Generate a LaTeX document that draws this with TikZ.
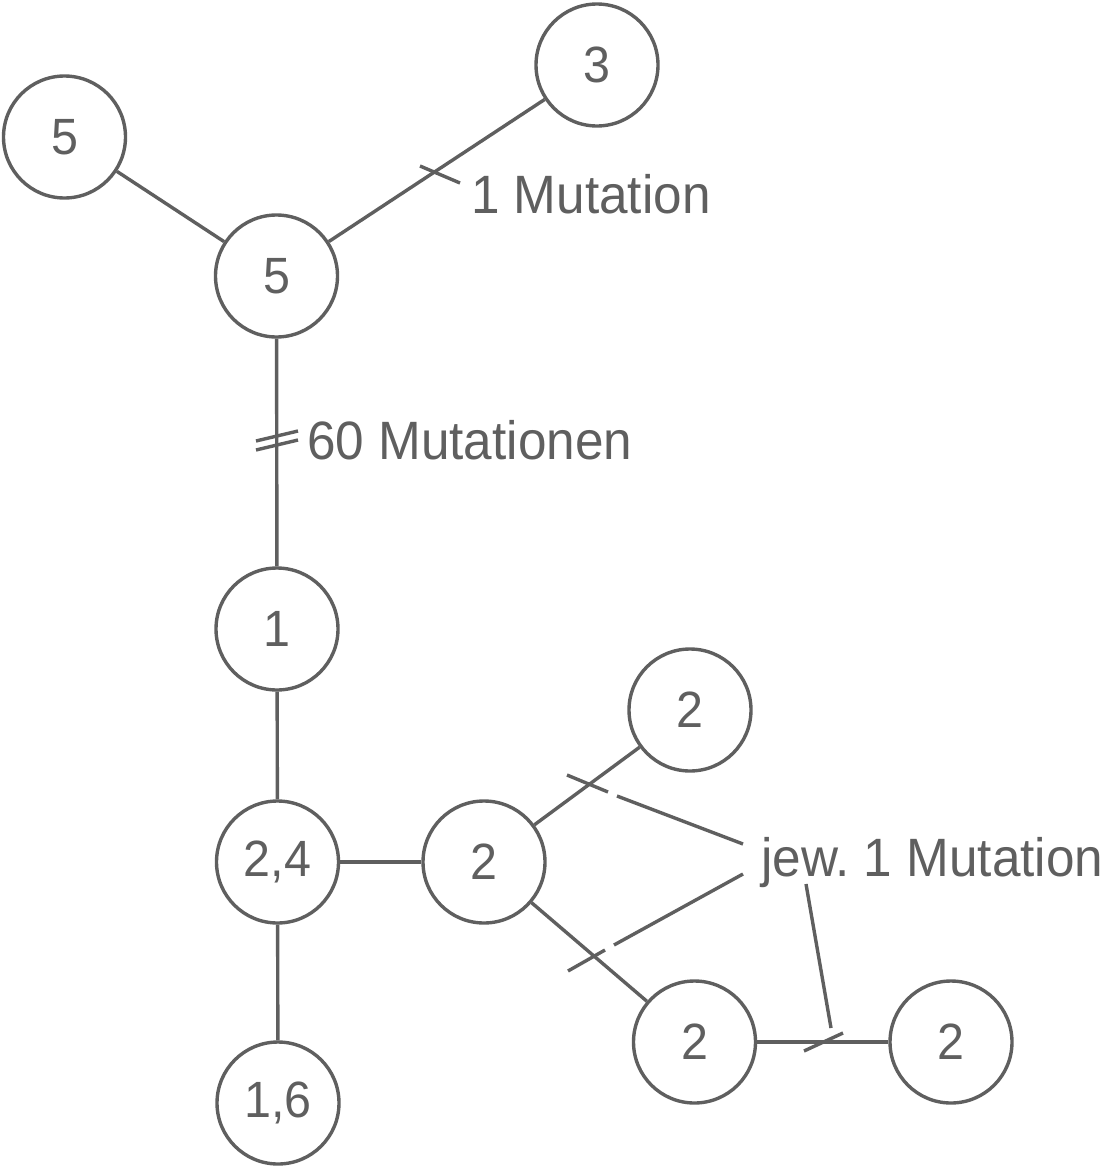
\documentclass[tikz,border=0pt]{standalone}
\usepackage{fontspec}
\setmainfont{Liberation Sans}[FakeStretch=0.95]
\definecolor{ink}{HTML}{5F5F5F}
\begin{document}
\begin{tikzpicture}[x=1pt,y=-1pt,
  every node/.style={text=ink},
  hap/.style={circle,draw=ink,line width=3.4pt,minimum size=122pt,inner sep=0pt,font=\fontsize{51}{51}\selectfont},
  lbl/.style={anchor=base west,inner sep=0pt,font=\fontsize{54}{54}\selectfont},
  edge/.style={draw=ink,line width=3.4pt},
  tick/.style={draw=ink,line width=3.4pt}]
\useasboundingbox (0,0) rectangle (1104,1167);
% nodes
\node[hap] (A) at (597,65) {3};
\node[hap] (B) at (64.5,137) {5};
\node[hap] (C) at (276.5,276) {5};
\node[hap] (D) at (277,629) {1};
\node[hap] (E) at (277.5,862) {2,4};
\node[hap] (F) at (484,862) {2};
\node[hap] (G) at (690,710) {2};
\node[hap] (H) at (694.5,1042) {2};
\node[hap] (I) at (951,1042) {2};
\node[hap] (J) at (278,1103) {1,6};
% edges
\draw[edge] (B) -- (C);
\draw[edge] (C) -- (A);
\draw[edge] (C) -- (D);
\draw[edge] (D) -- (E);
\draw[edge] (E) -- (J);
\draw[edge] (E) -- (F);
\draw[edge] (F) -- (G);
\draw[edge] (F) -- (H);
\draw[edge] (H) -- (I);
% labels
\node[lbl] (L1) at (471,213) {1 Mutation};
\node[lbl] (L2) at (307,459) {60 Mutationen};
\node[lbl] (L3) at (761,876) {jew.\ 1 Mutation};
% ticks
\coordinate (t1a) at (420,166); \coordinate (t1b) at (460,183);
\draw[tick] (t1a) -- (t1b);
\coordinate (t2a) at (256,441); \coordinate (t2b) at (298,431);
\coordinate (t3a) at (256,450); \coordinate (t3b) at (298,440);
\draw[tick] (t2a) -- (t2b);
\draw[tick] (t3a) -- (t3b);
% pointer lines for "jew. 1 Mutation"
\coordinate (p1s) at (743,844); \coordinate (p1e) at (617,796);
\coordinate (k1a) at (608,792); \coordinate (k1b) at (567,775);
\draw[tick] (p1s) -- (p1e);
\draw[tick] (k1a) -- (k1b);
\coordinate (p2s) at (743,874); \coordinate (p2e) at (614,945);
\coordinate (k2a) at (605,950); \coordinate (k2b) at (568,971);
\draw[tick] (p2s) -- (p2e);
\draw[tick] (k2a) -- (k2b);
\coordinate (p3s) at (806,884); \coordinate (p3e) at (831,1028);
\coordinate (k3a) at (804,1051); \coordinate (k3b) at (843,1033);
\draw[tick] (p3s) -- (p3e);
\draw[tick] (k3a) -- (k3b);
\end{tikzpicture}
\end{document}
